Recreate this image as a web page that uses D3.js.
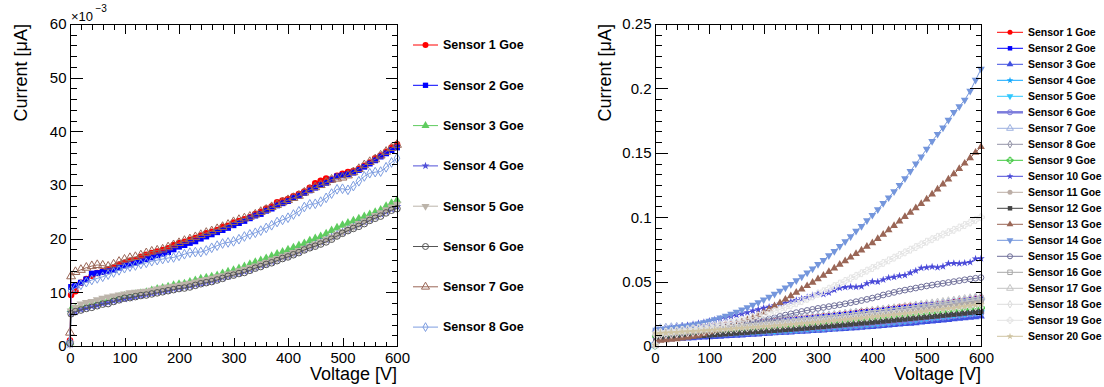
<!DOCTYPE html>
<html>
<head>
<meta charset="utf-8">
<script src="https://cdn.jsdelivr.net/npm/d3@7"></script>
<style>
  body { margin: 0; background: #fff; }
  svg { display: block; font-family: "Liberation Sans", Arial, sans-serif; }
</style>
</head>
<body>
<svg id="chart" width="1104" height="387"></svg>
<script>
// bias voltage [V], shared by all sensors
const voltage = [0, 2,
  10, 20, 30, 40, 50, 60, 70, 80, 90, 100,
  110, 120, 130, 140, 150, 160, 170, 180, 190, 200,
  210, 220, 230, 240, 250, 260, 270, 280, 290, 300,
  310, 320, 330, 340, 350, 360, 370, 380, 390, 400,
  410, 420, 430, 440, 450, 460, 470, 480, 490, 500,
  510, 520, 530, 540, 550, 560, 570, 580, 590, 600];

// currents in units of 1e-3 uA
const sensor1 = [1.0, 9.5,
  10.2, 11.8, 12.5, 13.1, 13.6, 13.9, 14.3, 14.6, 15.2, 15.5,
  15.9, 16.0, 16.6, 17.0, 17.3, 17.6, 17.9, 18.2, 18.8, 19.2,
  19.4, 19.8, 20.1, 20.6, 21.0, 21.3, 21.6, 22.2, 22.4, 23.0,
  23.3, 23.6, 24.0, 24.6, 25.0, 25.6, 26.0, 26.8, 27.1, 27.4,
  27.9, 28.3, 28.8, 29.5, 30.3, 30.8, 31.2, 31.0, 31.7, 32.1,
  32.4, 32.6, 33.0, 33.6, 34.2, 35.0, 35.5, 36.2, 37.0, 37.6];
const sensor2 = [0.5, 11.0,
  11.3, 11.8, 12.4, 13.5, 13.6, 13.8, 14.0, 14.2, 14.6, 15.0,
  15.2, 15.5, 15.8, 16.2, 16.5, 16.9, 17.2, 17.5, 18.0, 18.5,
  18.8, 19.2, 19.5, 20.0, 20.4, 20.8, 21.2, 21.6, 22.0, 22.5,
  22.9, 23.3, 23.8, 24.3, 24.6, 25.2, 25.6, 26.2, 26.6, 27.0,
  27.6, 28.0, 28.5, 29.0, 29.5, 30.0, 30.4, 31.0, 31.6, 31.8,
  32.0, 32.3, 32.8, 33.4, 34.0, 34.6, 35.3, 35.9, 36.5, 37.0];
const sensor3 = [0.6, 6.8,
  7.0, 7.2, 7.5, 7.8, 8.0, 8.3, 8.6, 8.8, 9.1, 9.3,
  9.4, 9.6, 9.8, 10.0, 10.3, 10.6, 10.8, 11.0, 11.3, 11.5,
  11.6, 11.9, 12.2, 12.5, 12.7, 12.9, 13.1, 13.5, 13.8, 14.1,
  14.4, 14.8, 15.2, 15.6, 15.9, 16.3, 16.7, 17.1, 17.5, 17.9,
  18.3, 18.7, 19.1, 19.6, 20.0, 20.4, 20.9, 21.5, 22.0, 22.5,
  22.9, 23.3, 23.7, 24.1, 24.5, 24.9, 25.3, 26.0, 26.6, 27.1];
const sensor4 = [0.3, 6.2,
  6.4, 6.8, 7.1, 7.4, 7.6, 7.9, 8.1, 8.4, 8.6, 8.8,
  9.0, 9.2, 9.4, 9.6, 9.8, 10.0, 10.2, 10.4, 10.6, 10.8,
  11.0, 11.2, 11.4, 11.6, 11.9, 12.1, 12.4, 12.7, 13.0, 13.3,
  13.6, 13.9, 14.2, 14.6, 15.0, 15.3, 15.7, 16.1, 16.5, 16.8,
  17.2, 17.6, 18.0, 18.5, 18.9, 19.4, 19.8, 20.3, 20.8, 21.2,
  21.7, 22.2, 22.7, 23.1, 23.6, 24.1, 24.6, 25.0, 25.5, 26.0];
const sensor5 = [0.4, 6.5,
  7.2, 7.8, 8.1, 8.3, 8.6, 8.9, 9.1, 9.3, 9.5, 9.7,
  9.9, 10.0, 10.1, 10.2, 10.4, 10.6, 10.8, 11.0, 11.1, 11.3,
  11.5, 11.7, 11.9, 12.2, 12.4, 12.6, 12.9, 13.1, 13.4, 13.6,
  14.0, 14.3, 14.6, 14.9, 15.3, 15.6, 16.0, 16.3, 16.7, 17.0,
  17.4, 17.8, 18.2, 18.6, 19.0, 19.4, 19.9, 20.3, 20.8, 21.3,
  21.8, 22.3, 22.8, 23.3, 23.8, 24.3, 24.8, 25.4, 25.9, 26.4];
const sensor6 = [0.5, 6.0,
  6.4, 6.7, 7.0, 7.2, 7.5, 7.8, 7.9, 8.3, 8.6, 8.9,
  9.0, 9.2, 9.4, 9.5, 9.7, 9.9, 10.1, 10.3, 10.5, 10.7,
  10.8, 11.0, 11.3, 11.6, 11.8, 12.0, 12.3, 12.6, 13.0, 13.2,
  13.5, 13.7, 14.1, 14.5, 14.8, 15.2, 15.5, 15.9, 16.3, 16.6,
  17.0, 17.4, 17.9, 18.3, 18.6, 19.0, 19.4, 19.9, 20.5, 21.0,
  21.5, 21.9, 22.3, 22.8, 23.4, 23.8, 24.2, 24.8, 25.3, 25.6];
const sensor7 = [2.5, 13.0,
  13.8, 14.2, 14.6, 14.9, 15.1, 15.0, 14.8, 15.2, 15.7, 16.1,
  16.4, 16.6, 16.9, 17.3, 17.6, 17.8, 18.0, 18.4, 18.8, 19.2,
  19.6, 19.9, 20.3, 20.7, 21.1, 21.4, 21.8, 22.2, 22.6, 23.1,
  23.5, 23.8, 24.1, 24.5, 25.0, 25.4, 25.9, 26.3, 26.8, 27.2,
  27.6, 28.0, 28.6, 29.1, 29.6, 30.0, 30.5, 31.0, 31.2, 31.4,
  31.8, 32.4, 33.0, 33.7, 34.3, 34.8, 35.5, 36.2, 36.9, 37.5];
const sensor8 = [0.8, 10.3,
  10.8, 11.4, 11.9, 12.3, 12.6, 12.9, 13.3, 13.7, 14.1, 14.5,
  14.8, 15.0, 15.3, 15.5, 15.8, 16.0, 16.2, 16.4, 16.5, 16.8,
  17.1, 17.4, 17.5, 17.5, 17.8, 18.3, 18.7, 19.1, 19.3, 19.5,
  19.9, 20.4, 20.8, 21.1, 21.5, 22.0, 22.5, 23.1, 23.5, 23.9,
  24.5, 25.1, 25.9, 26.4, 26.5, 26.9, 27.6, 28.4, 29.2, 29.3,
  29.1, 29.8, 30.7, 31.6, 32.2, 32.4, 32.5, 33.3, 34.2, 35.0];

// second batch (right panel)
const batch2Sensor3 = [0.4, 4.5,
  5.0, 5.2, 5.4, 5.6, 5.8, 6.0, 6.2, 6.5, 6.7, 7.0,
  7.2, 7.4, 7.7, 7.9, 8.2, 8.4, 8.7, 8.9, 9.2, 9.5,
  9.7, 10.0, 10.2, 10.5, 10.7, 11.0, 11.2, 11.5, 11.8, 12.0,
  12.3, 12.6, 12.9, 13.1, 13.4, 13.7, 14.0, 14.3, 14.7, 15.0,
  15.4, 15.7, 16.1, 16.4, 16.8, 17.2, 17.5, 17.9, 18.4, 18.8,
  19.2, 19.6, 20.0, 20.4, 20.9, 21.3, 21.7, 22.2, 22.6, 23.1];
const sensor9 = [0.5, 7.5,
  8.0, 8.3, 8.6, 8.9, 9.2, 9.5, 9.8, 10.1, 10.4, 10.7,
  11.0, 11.3, 11.6, 11.9, 12.2, 12.5, 12.8, 13.1, 13.4, 13.7,
  14.0, 14.3, 14.6, 15.0, 15.3, 15.6, 16.0, 16.3, 16.7, 17.0,
  17.4, 17.7, 18.1, 18.5, 18.8, 19.2, 19.6, 20.0, 20.4, 20.8,
  21.2, 21.6, 22.0, 22.4, 22.8, 23.2, 23.7, 24.1, 24.5, 25.0,
  25.4, 25.9, 26.3, 26.8, 27.2, 27.7, 28.2, 28.6, 29.1, 29.6];
const sensor10 = [1.0, 12.0,
  12.6, 13.3, 14.0, 14.6, 15.3, 16.0, 16.8, 17.6, 18.5, 19.4,
  20.3, 21.2, 22.0, 23.0, 24.0, 25.1, 26.1, 27.3, 28.4, 29.5,
  30.2, 31.5, 32.6, 33.4, 34.4, 35.5, 36.6, 37.8, 39.3, 41.0,
  40.2, 41.3, 43.5, 45.0, 45.6, 46.0, 45.8, 46.2, 48.5, 50.0,
  49.8, 51.5, 53.0, 53.5, 54.6, 55.0, 56.8, 58.5, 60.5, 61.0,
  61.5, 61.0, 61.8, 64.0, 64.3, 64.0, 64.5, 65.0, 67.8, 68.0];
const sensor11 = [0.8, 9.5,
  10.0, 10.3, 10.6, 10.9, 11.2, 11.5, 11.8, 12.1, 12.4, 12.7,
  13.0, 13.3, 13.6, 13.9, 14.2, 14.5, 14.8, 15.1, 15.4, 15.7,
  16.0, 16.3, 16.7, 17.0, 17.4, 17.7, 18.1, 18.4, 18.8, 19.2,
  19.6, 20.0, 20.4, 20.8, 21.2, 21.6, 22.0, 22.5, 22.9, 23.3,
  23.8, 24.2, 24.7, 25.1, 25.6, 26.1, 26.6, 27.1, 27.6, 28.1,
  28.6, 29.1, 29.7, 30.2, 30.8, 31.3, 31.9, 32.5, 33.0, 33.6];
const sensor12 = [0.5, 5.5,
  6.0, 6.3, 6.5, 6.8, 7.0, 7.3, 7.6, 7.9, 8.2, 8.5,
  8.8, 9.1, 9.4, 9.7, 10.0, 10.3, 10.6, 10.9, 11.2, 11.5,
  11.8, 12.1, 12.4, 12.7, 13.0, 13.3, 13.7, 14.0, 14.4, 14.8,
  15.1, 15.5, 15.9, 16.2, 16.6, 17.0, 17.4, 17.8, 18.1, 18.5,
  18.9, 19.3, 19.7, 20.1, 20.5, 20.9, 21.3, 21.7, 22.1, 22.5,
  22.9, 23.3, 23.8, 24.2, 24.6, 25.0, 25.5, 25.9, 26.4, 26.9];
const sensor13 = [0.5, 3.5,
  4.2, 4.6, 5.0, 5.5, 6.0, 6.6, 7.3, 8.2, 9.4, 10.9,
  12.0, 13.1, 14.3, 15.6, 17.0, 18.6, 20.3, 22.1, 24.0, 26.0,
  28.5, 31.0, 33.5, 36.2, 38.9, 41.5, 44.1, 46.7, 49.3, 52.0,
  54.8, 57.6, 60.4, 63.2, 66.0, 68.8, 71.6, 74.4, 77.2, 80.0,
  83.3, 86.6, 90.0, 93.4, 96.9, 100.3, 103.7, 107.1, 110.5, 114.0,
  117.8, 121.7, 125.6, 129.5, 133.5, 137.6, 141.8, 146.0, 150.3, 154.6];
const sensor14 = [1.0, 12.5,
  13.0, 13.5, 14.1, 14.6, 15.2, 15.8, 16.5, 17.3, 18.2, 19.4,
  20.6, 21.9, 23.3, 24.8, 26.4, 28.1, 29.9, 31.8, 33.8, 35.9,
  38.1, 40.4, 42.8, 45.3, 48.0, 50.8, 53.8, 56.9, 60.0, 63.4,
  66.6, 70.2, 73.6, 77.5, 81.2, 85.0, 89.2, 93.0, 97.4, 101.6,
  106.0, 110.8, 115.2, 120.0, 124.8, 130.0, 135.6, 141.5, 147.0, 153.0,
  159.0, 164.5, 169.5, 175.5, 181.5, 186.0, 191.0, 198.0, 206.5, 215.0];
const sensor15 = [0.8, 8.5,
  9.0, 9.4, 9.8, 10.2, 10.6, 11.0, 11.5, 12.0, 12.5, 13.0,
  13.6, 14.2, 14.8, 15.4, 16.1, 16.8, 17.5, 18.3, 19.1, 20.0,
  21.0, 22.0, 23.0, 24.0, 25.0, 25.9, 26.8, 27.6, 28.4, 29.2,
  29.9, 30.6, 31.3, 32.0, 32.8, 33.6, 34.4, 35.3, 36.2, 37.2,
  38.2, 39.6, 40.6, 41.6, 42.6, 43.4, 44.2, 45.0, 45.8, 46.6,
  47.3, 48.0, 48.6, 49.3, 50.0, 50.7, 51.4, 52.0, 52.6, 53.1];
const sensor16 = [0.7, 9.0,
  9.5, 9.9, 10.2, 10.6, 10.9, 11.3, 11.6, 12.0, 12.3, 12.7,
  13.0, 13.4, 13.7, 14.1, 14.5, 14.8, 15.2, 15.6, 16.0, 16.4,
  16.8, 17.2, 17.6, 18.0, 18.4, 18.8, 19.2, 19.7, 20.1, 20.5,
  21.0, 21.4, 21.9, 22.3, 22.8, 23.2, 23.7, 24.2, 24.6, 25.1,
  25.6, 26.1, 26.6, 27.1, 27.6, 28.1, 28.7, 29.2, 29.7, 30.3,
  30.8, 31.4, 31.9, 32.5, 33.1, 33.7, 34.3, 34.9, 35.5, 36.1];
const sensor17 = [0.9, 10.0,
  10.4, 10.8, 11.2, 11.6, 12.0, 12.4, 12.8, 13.2, 13.6, 14.0,
  14.4, 14.8, 15.2, 15.6, 16.0, 16.4, 16.8, 17.2, 17.6, 18.0,
  18.4, 18.9, 19.3, 19.7, 20.2, 20.6, 21.1, 21.5, 22.0, 22.4,
  22.9, 23.4, 23.9, 24.4, 24.9, 25.4, 25.9, 26.4, 26.9, 27.4,
  27.9, 28.4, 28.9, 29.4, 29.9, 30.4, 30.9, 31.5, 32.0, 32.6,
  33.1, 33.7, 34.2, 34.8, 35.3, 35.9, 36.5, 37.1, 37.7, 38.4];
const sensor18 = [0.6, 8.0,
  8.5, 8.9, 9.2, 9.6, 9.9, 10.3, 10.6, 11.0, 11.3, 11.7,
  12.0, 12.4, 12.7, 13.1, 13.4, 13.8, 14.1, 14.5, 14.8, 15.2,
  15.5, 15.9, 16.2, 16.6, 17.0, 17.3, 17.7, 18.1, 18.4, 18.8,
  19.2, 19.6, 20.0, 20.4, 20.8, 21.2, 21.6, 22.0, 22.4, 22.8,
  23.2, 23.6, 24.0, 24.4, 24.8, 25.2, 25.6, 26.0, 26.4, 26.9,
  27.3, 27.7, 28.1, 28.6, 29.0, 29.4, 29.9, 30.3, 30.8, 31.2];
const sensor19 = [1.0, 10.0,
  10.5, 11.0, 11.5, 12.0, 12.5, 13.0, 13.6, 14.2, 14.8, 15.4,
  16.1, 16.8, 17.6, 18.4, 19.3, 20.2, 21.2, 22.2, 23.3, 24.5,
  25.8, 27.1, 28.5, 30.0, 31.5, 33.1, 34.8, 36.6, 38.5, 40.5,
  42.5, 44.5, 46.5, 48.5, 50.5, 52.5, 54.5, 56.5, 58.5, 60.5,
  62.5, 64.5, 66.5, 68.6, 70.7, 72.7, 74.8, 76.8, 78.9, 81.0,
  82.9, 84.8, 86.6, 88.4, 90.2, 92.0, 93.9, 95.9, 97.9, 100.0];
const sensor20 = [0.8, 9.5,
  10.0, 10.2, 10.5, 10.7, 11.0, 11.2, 11.5, 11.7, 12.0, 12.2,
  12.5, 12.8, 13.0, 13.3, 13.6, 13.9, 14.2, 14.5, 14.8, 15.1,
  15.4, 15.7, 16.0, 16.4, 16.7, 17.0, 17.4, 17.7, 18.1, 18.5,
  18.8, 19.2, 19.6, 20.0, 20.4, 20.8, 21.2, 21.6, 22.0, 22.5,
  22.9, 23.3, 23.8, 24.2, 24.7, 25.1, 25.6, 26.1, 26.6, 27.1,
  27.6, 28.1, 28.6, 29.1, 29.6, 30.2, 30.7, 31.3, 31.8, 32.4];

const leftSeries = [sensor1, sensor2, sensor3, sensor4, sensor5, sensor6, sensor7, sensor8];
const leftColors = ["#ff0000", "#0000ff", "#5fcc5f", "#5050d8", "#bcb4aa", "#555555", "#9a6656", "#7c9ce0"];
const leftMarkers = ["circle", "square", "triangle", "star", "tridown", "o-circle", "o-triangle", "o-diamond"];

const rightSeries = [sensor1, sensor2, batch2Sensor3, sensor4, sensor5, sensor6, sensor7, sensor8,
  sensor9, sensor10, sensor11, sensor12, sensor13, sensor14, sensor15, sensor16, sensor17, sensor18, sensor19, sensor20];
const rightColors = ["#ff0000", "#0000ff", "#4050e0", "#10a8ff", "#30c8ff", "#7c7cdc", "#9cb0e0", "#9494a8",
  "#40c840", "#4a4ad8", "#bcaea6", "#444444", "#9a6656", "#7496dc", "#70709a", "#a8a8a8", "#c4c4c4", "#dcdcdc", "#e4e4e4", "#cfc4a2"];
const rightMarkers = ["circle", "square", "triangle", "star", "tridown", "o-circle", "o-triangle", "o-diamond",
  "o-cross", "star", "circle", "square", "triangle", "tridown", "o-circle", "o-square", "o-triangle", "o-diamond", "o-cross", "star"];

const names = d3.range(1, 21).map(i => `Sensor ${i} Goe`);

const xTicks = [0, 100, 200, 300, 400, 500, 600];
const leftYTicks = [0, 10, 20, 30, 40, 50, 60];
const rightYTicks = [0, 50, 100, 150, 200, 250];
const rightYLabels = ["0", "0.05", "0.1", "0.15", "0.2", "0.25"];

const svg = d3.select("#chart");

const shapes = {
  circle: d3.symbolCircle, square: d3.symbolSquare, triangle: d3.symbolTriangle,
  tridown: d3.symbolTriangle, diamond: d3.symbolDiamond, star: d3.symbolStar, cross: d3.symbolCross
};

function markerStyle(sel, m, color, size) {
  const open = m.startsWith("o-");
  const name = open ? m.slice(2) : m;
  const sz = name === "diamond" ? size * 0.8 : name === "star" ? size * 0.7 : size;
  sel.attr("d", d3.symbol(shapes[name], sz)())
    .attr("fill", open ? "none" : color)
    .attr("stroke", open ? color : "none")
    .attr("stroke-width", 1);
  return name === "tridown" ? " rotate(180)" : "";
}

function panel(opt) {
  const g = svg.append("g");
  const x = d3.scaleLinear().domain([0, 600]).range([opt.x0, opt.x1]);
  const y = d3.scaleLinear().domain([0, opt.ymax]).range([opt.y1, opt.y0]);

  // series
  opt.series.forEach((vals, i) => {
    const pts = d3.zip(voltage, vals);
    const s = g.append("g");
    s.append("path")
      .datum(pts)
      .attr("fill", "none")
      .attr("stroke", opt.colors[i])
      .attr("stroke-width", opt.widths ? opt.widths[i] : 1)
      .attr("d", d3.line().x(d => x(d[0])).y(d => y(d[1])));
    s.selectAll("path.m")
      .data(pts)
      .join("path")
      .attr("class", "m")
      .each(function (d) {
        const rot = markerStyle(d3.select(this), opt.markers[i], opt.colors[i], opt.msize);
        d3.select(this).attr("transform", `translate(${x(d[0])},${y(d[1])})${rot}`);
      });
  });

  // frame
  g.append("rect")
    .attr("x", opt.x0 + 0.5).attr("y", opt.y0 + 0.5)
    .attr("width", opt.x1 - opt.x0).attr("height", opt.y1 - opt.y0)
    .attr("fill", "none").attr("stroke", "#000");

  const xMinor = d3.range(0, 601, 20);
  const yMinor = d3.range(0, opt.ymax + 0.001, opt.ymax / 30);

  const style = a => {
    a.select(".domain").remove();
    a.attr("font-family", null).attr("font-size", 15);
    a.selectAll("line").attr("stroke", "#000").attr("shape-rendering", "crispEdges");
  };
  const yb = opt.y1 + 0.5, yt = opt.y0 + 0.5, xl = opt.x0 + 0.5, xr = opt.x1 + 0.5;

  g.append("g").attr("transform", `translate(0,${yb})`)
    .call(d3.axisBottom(x).tickValues(xTicks).tickSize(-9).tickPadding(6).tickFormat(d3.format("d"))).call(style);
  g.append("g").attr("transform", `translate(0,${yb})`)
    .call(d3.axisBottom(x).tickValues(xMinor).tickSize(-5).tickFormat("")).call(style);
  g.append("g").attr("transform", `translate(0,${yt})`)
    .call(d3.axisTop(x).tickValues(xTicks).tickSize(-9).tickFormat("")).call(style);
  g.append("g").attr("transform", `translate(0,${yt})`)
    .call(d3.axisTop(x).tickValues(xMinor).tickSize(-5).tickFormat("")).call(style);

  g.append("g").attr("transform", `translate(${xl},0)`)
    .call(d3.axisLeft(y).tickValues(opt.yTicks).tickSize(-12).tickPadding(4).tickFormat((d, i) => opt.yLabels[i])).call(style);
  g.append("g").attr("transform", `translate(${xl},0)`)
    .call(d3.axisLeft(y).tickValues(yMinor).tickSize(-6).tickFormat("")).call(style);
  g.append("g").attr("transform", `translate(${xr},0)`)
    .call(d3.axisRight(y).tickValues(opt.yTicks).tickSize(-12).tickFormat("")).call(style);
  g.append("g").attr("transform", `translate(${xr},0)`)
    .call(d3.axisRight(y).tickValues(yMinor).tickSize(-6).tickFormat("")).call(style);

  // titles
  g.append("text")
    .attr("x", opt.x1).attr("y", 380)
    .attr("text-anchor", "end").attr("font-size", 18)
    .text("Voltage [V]");
  g.append("text")
    .attr("transform", `translate(${opt.ylabX},${opt.y0}) rotate(-90)`)
    .attr("text-anchor", "end").attr("font-size", 18)
    .text("Current [\u03bcA]");

  // legend
  const lg = g.append("g");
  opt.series.forEach((vals, i) => {
    const ly = opt.legY0 + i * opt.legDy;
    lg.append("line")
      .attr("x1", opt.legX).attr("x2", opt.legX + opt.legLen)
      .attr("y1", ly).attr("y2", ly)
      .attr("stroke", opt.colors[i]).attr("stroke-width", opt.widths ? opt.widths[i] : 1);
    const mk = lg.append("path");
    const rot = markerStyle(mk, opt.markers[i], opt.colors[i], opt.legMsize);
    mk.attr("transform", `translate(${opt.legX + opt.legLen / 2},${ly})${rot}`);
    lg.append("text")
      .attr("x", opt.legX + opt.legLen + 5).attr("y", ly)
      .attr("dy", "0.35em")
      .attr("font-size", opt.legFont).attr("font-weight", "bold")
      .text(names[i]);
  });
  return g;
}

const left = panel({
  x0: 70, x1: 397, y0: 24, y1: 346, ymax: 60,
  series: leftSeries, colors: leftColors, markers: leftMarkers, msize: 34, legMsize: 28,
  yTicks: leftYTicks, yLabels: leftYTicks.map(String),
  ylabX: 27, legX: 413, legLen: 25, legY0: 45, legDy: 40.3, legFont: 12.5
});
left.append("text").attr("x", 71).attr("y", 21).attr("font-size", 13).text("\u00d710");
left.append("text").attr("x", 95.5).attr("y", 12).attr("font-size", 10).text("\u22123");

panel({
  x0: 655, x1: 981, y0: 24, y1: 346, ymax: 250,
  series: rightSeries, colors: rightColors, markers: rightMarkers, msize: 26, legMsize: 20,
  widths: rightSeries.map((s, i) => i === 5 ? 2.5 : 1),
  yTicks: rightYTicks, yLabels: rightYLabels,
  ylabX: 611, legX: 997, legLen: 26, legY0: 32.3, legDy: 16, legFont: 10.5
});
</script>
</body>
</html>
